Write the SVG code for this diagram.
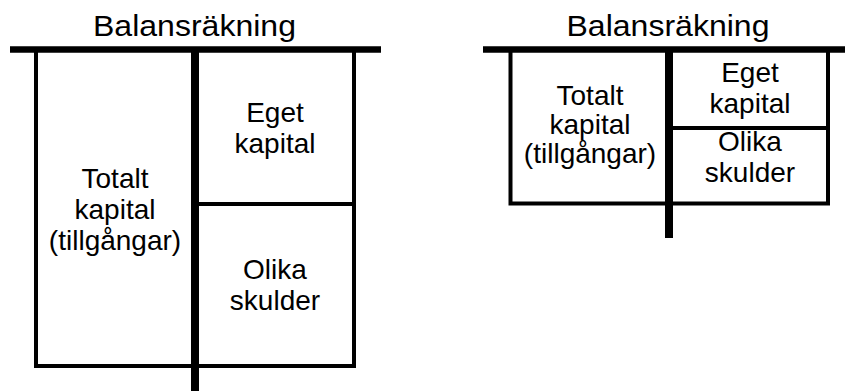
<svg xmlns="http://www.w3.org/2000/svg" width="845" height="391" viewBox="0 0 845 391">
  <style>
    .bg { fill: #ffffff; }
    .bar { stroke: #000000; stroke-width: 6.5; fill: none; }
    .spine { stroke: #000000; stroke-width: 8; fill: none; }
    .edge { stroke: #000000; stroke-width: 4; fill: none; }
    text { font-family: "Liberation Sans", Arial, sans-serif; font-size: 28px; fill: #000000; text-anchor: middle; }
    .title { font-size: 30px; }
  </style>
  <rect class="bg" x="0" y="0" width="845" height="391"/>

  <!-- Large T-account -->
  <g id="balance-large">
    <text class="title" x="194.5" y="36" textLength="203" lengthAdjust="spacingAndGlyphs">Balansräkning</text>
    <g id="large-frame">
      <polyline class="edge" points="36,49 36,366 354,366 354,49"/>
      <line class="edge" x1="195" y1="204" x2="354" y2="204"/>
      <line class="spine" x1="195" y1="49" x2="195" y2="391"/>
      <line class="bar" x1="10" y1="49.5" x2="381" y2="49.5"/>
    </g>
    <g id="large-assets">
      <text x="115" y="188">Totalt</text>
      <text x="115" y="219">kapital</text>
      <text x="115" y="250">(tillgångar)</text>
    </g>
    <g id="large-equity">
      <text x="275" y="122">Eget</text>
      <text x="275" y="153">kapital</text>
    </g>
    <g id="large-debt">
      <text x="275" y="279">Olika</text>
      <text x="275" y="310">skulder</text>
    </g>
  </g>

  <!-- Small T-account -->
  <g id="balance-small">
    <text class="title" x="668" y="36" textLength="203" lengthAdjust="spacingAndGlyphs">Balansräkning</text>
    <g id="small-frame">
      <polyline class="edge" points="510.5,49 510.5,203.5 828,203.5 828,49"/>
      <line class="edge" x1="669" y1="128" x2="828" y2="128"/>
      <line class="spine" x1="669" y1="49" x2="669" y2="238"/>
      <line class="bar" x1="483" y1="49.5" x2="845" y2="49.5"/>
    </g>
    <g id="small-assets">
      <text x="590" y="105">Totalt</text>
      <text x="590" y="134">kapital</text>
      <text x="590" y="163">(tillgångar)</text>
    </g>
    <g id="small-equity">
      <text x="750" y="82">Eget</text>
      <text x="750" y="113">kapital</text>
    </g>
    <g id="small-debt">
      <text x="750" y="151">Olika</text>
      <text x="750" y="182">skulder</text>
    </g>
  </g>
</svg>
